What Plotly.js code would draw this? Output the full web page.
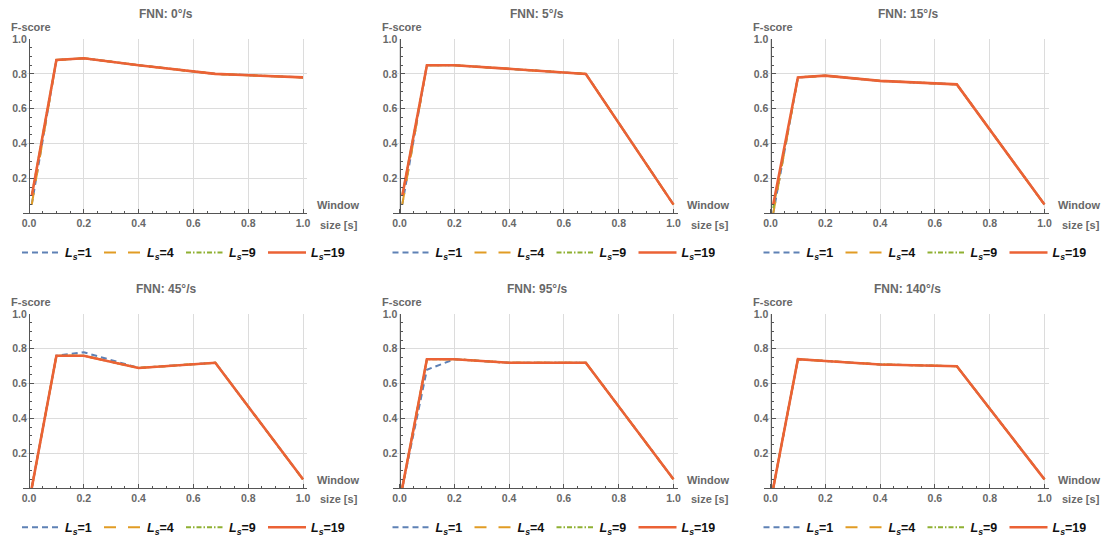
<!DOCTYPE html>
<html><head><meta charset="utf-8">
<script src="https://cdn.plot.ly/plotly-3.0.1.min.js"></script>
<style>html,body{margin:0;padding:0;background:#fff}#chart{width:1105px;height:543px}</style>
</head><body><div id="chart"></div>
<script>
// ---------------- data ----------------
const windowSize = [0.01, 0.1, 0.2, 0.4, 0.68, 1.0];
const panelTitles = ['FNN: 0°/s', 'FNN: 5°/s', 'FNN: 15°/s', 'FNN: 45°/s', 'FNN: 95°/s', 'FNN: 140°/s'];
const seriesLs = ['1', '4', '9', '19'];
// one row per panel, values at windowSize
const Ls1 = [
  [0.05, 0.88, 0.89, 0.85, 0.80, 0.78],
  [0.05, 0.85, 0.85, 0.83, 0.80, 0.05],
  [0.00, 0.78, 0.79, 0.76, 0.74, 0.05],
  [0.00, 0.76, 0.78, 0.69, 0.72, 0.05],
  [0.00, 0.68, 0.74, 0.72, 0.72, 0.05],
  [0.00, 0.74, 0.73, 0.71, 0.70, 0.05]
];
const Ls4 = [
  [0.05, 0.88, 0.89, 0.85, 0.80, 0.78],
  [0.05, 0.85, 0.85, 0.83, 0.80, 0.05],
  [0.00, 0.78, 0.79, 0.76, 0.74, 0.05],
  [0.00, 0.76, 0.76, 0.69, 0.72, 0.05],
  [0.00, 0.74, 0.74, 0.72, 0.72, 0.05],
  [0.00, 0.74, 0.73, 0.71, 0.70, 0.05]
];
const Ls9 = [
  [0.10, 0.88, 0.89, 0.85, 0.80, 0.78],
  [0.10, 0.85, 0.85, 0.83, 0.80, 0.05],
  [0.03, 0.78, 0.79, 0.76, 0.74, 0.05],
  [0.00, 0.76, 0.76, 0.69, 0.72, 0.05],
  [0.00, 0.74, 0.74, 0.72, 0.72, 0.05],
  [0.00, 0.74, 0.73, 0.71, 0.70, 0.05]
];
const Ls19 = [
  [0.10, 0.88, 0.89, 0.85, 0.80, 0.78],
  [0.10, 0.85, 0.85, 0.83, 0.80, 0.05],
  [0.05, 0.78, 0.79, 0.76, 0.74, 0.05],
  [0.00, 0.76, 0.76, 0.69, 0.72, 0.05],
  [0.00, 0.74, 0.74, 0.72, 0.72, 0.05],
  [0.00, 0.74, 0.73, 0.71, 0.70, 0.05]
];
const xTickVals = [0, 0.2, 0.4, 0.6, 0.8, 1.0];
const xTickText = ['0.0', '0.2', '0.4', '0.6', '0.8', '1.0'];
const yTickVals = [0.2, 0.4, 0.6, 0.8, 1.0];
const yTickText = ['0.2', '0.4', '0.6', '0.8', '1.0'];

// ---------------- styles ----------------
const seriesData = [Ls1, Ls4, Ls9, Ls19];
const seriesColor = ['#5E81B5', '#E19C24', '#8FB032', '#EB6235'];
const seriesDash = ['6px,4px', '12px,12px', '5px,2px,1.5px,2px', 'solid'];
const seriesWidth = [2, 2, 2, 2.6];

const W = 1105, H = 543;
const colX0 = [29, 399.5, 770.5];   // pixel of x=0
const unitX = 274;                   // pixels per x unit
const rowY0 = [215.7, 493.5];        // pixel of y=0
const rowY1 = [39.5, 317.5];         // pixel of y=1
const FONT = 'Liberation Sans, Arial, sans-serif';
const GRAY = '#686868';
const AXIS = '#555555';

const px = v => v / W;
const py = v => 1 - v / H;

const traces = [];
const layout = {
  width: W, height: H,
  margin: {l: 0, r: 0, t: 0, b: 0},
  paper_bgcolor: '#ffffff', plot_bgcolor: '#ffffff',
  font: {family: FONT, color: GRAY},
  annotations: [],
  showlegend: true
};

for (let i = 0; i < 6; i++) {
  const col = i % 3, row = Math.floor(i / 3);
  const s = i === 0 ? '' : String(i + 1);
  const x0 = colX0[col], yb = rowY0[row], yt = rowY1[row];

  layout['xaxis' + s] = {
    domain: [px(x0 - 0.022 * unitX), px(x0 + 1.015 * unitX)],
    range: [-0.022, 1.015],
    anchor: 'y' + s,
    tickmode: 'array', tickvals: xTickVals, ticktext: xTickText,
    ticks: 'inside', ticklen: 4, tickwidth: 1, tickcolor: AXIS,
    minor: {tickmode: 'linear', tick0: 0, dtick: 0.05, ticks: 'inside', ticklen: 2, tickcolor: AXIS, showgrid: false},
    showgrid: true, gridcolor: '#dcdcdc', gridwidth: 1,
    showline: true, linecolor: AXIS, linewidth: 1,
    zeroline: false,
    tickfont: {family: FONT, size: 10.5, color: GRAY, weight: 'bold'},
    fixedrange: true
  };
  layout['yaxis' + s] = {
    domain: [py(yb), py(yt)],
    range: [0, 1],
    anchor: 'free', position: px(x0),
    tickmode: 'array', tickvals: yTickVals, ticktext: yTickText,
    ticks: 'inside', ticklen: 4, tickwidth: 1, tickcolor: AXIS,
    minor: {tickmode: 'linear', tick0: 0, dtick: 0.05, ticks: 'inside', ticklen: 2, tickcolor: AXIS, showgrid: false},
    showgrid: true, gridcolor: '#dcdcdc', gridwidth: 1,
    showline: true, linecolor: AXIS, linewidth: 1,
    zeroline: false,
    tickfont: {family: FONT, size: 10.5, color: GRAY, weight: 'bold'},
    fixedrange: true
  };

  const legKey = 'legend' + s;
  layout[legKey] = {
    orientation: 'h',
    x: px(x0 - 12), xanchor: 'left',
    y: py(yb + 40), yanchor: 'middle',
    itemwidth: 38,
    entrywidth: 29, entrywidthmode: 'pixels',
    bgcolor: 'rgba(0,0,0,0)', borderwidth: 0,
    font: {family: FONT, size: 12.5, color: '#111111', weight: 'bold'},
    itemclick: false, itemdoubleclick: false,
    traceorder: 'normal'
  };

  for (let k = 0; k < 4; k++) {
    traces.push({
      type: 'scatter', mode: 'lines',
      x: windowSize, y: seriesData[k][i],
      xaxis: 'x' + s, yaxis: 'y' + s,
      name: '<i>L<sub>s</sub></i>=' + seriesLs[k],
      legend: legKey, showlegend: true,
      line: {color: seriesColor[k], dash: seriesDash[k], width: seriesWidth[k]},
      hoverinfo: 'skip'
    });
  }

  // panel title
  layout.annotations.push({
    xref: 'paper', yref: 'paper', x: px(x0 + unitX / 2), y: py(yt - 25.5),
    xanchor: 'center', yanchor: 'middle', showarrow: false,
    text: panelTitles[i], font: {family: FONT, size: 12, color: GRAY, weight: 'bold'}
  });
  // y-axis label
  layout.annotations.push({
    xref: 'paper', yref: 'paper', x: px(x0 - 20), y: py(yt - 12),
    xanchor: 'left', yanchor: 'middle', showarrow: false,
    text: 'F-score', font: {family: FONT, size: 11, color: GRAY, weight: 'bold'}
  });
  // x-axis label
  layout.annotations.push({
    xref: 'paper', yref: 'paper', x: px(x0 + 309), y: py(yb - 8),
    xanchor: 'center', yanchor: 'middle', showarrow: false,
    text: 'Window', font: {family: FONT, size: 11, color: GRAY, weight: 'bold'}
  });
  layout.annotations.push({
    xref: 'paper', yref: 'paper', x: px(x0 + 310), y: py(yb + 11.5),
    xanchor: 'center', yanchor: 'middle', showarrow: false,
    text: 'size [s]', font: {family: FONT, size: 11, color: GRAY, weight: 'bold'}
  });
}

Plotly.newPlot('chart', traces, layout, {displayModeBar: false, staticPlot: true});
</script>
</body></html>
